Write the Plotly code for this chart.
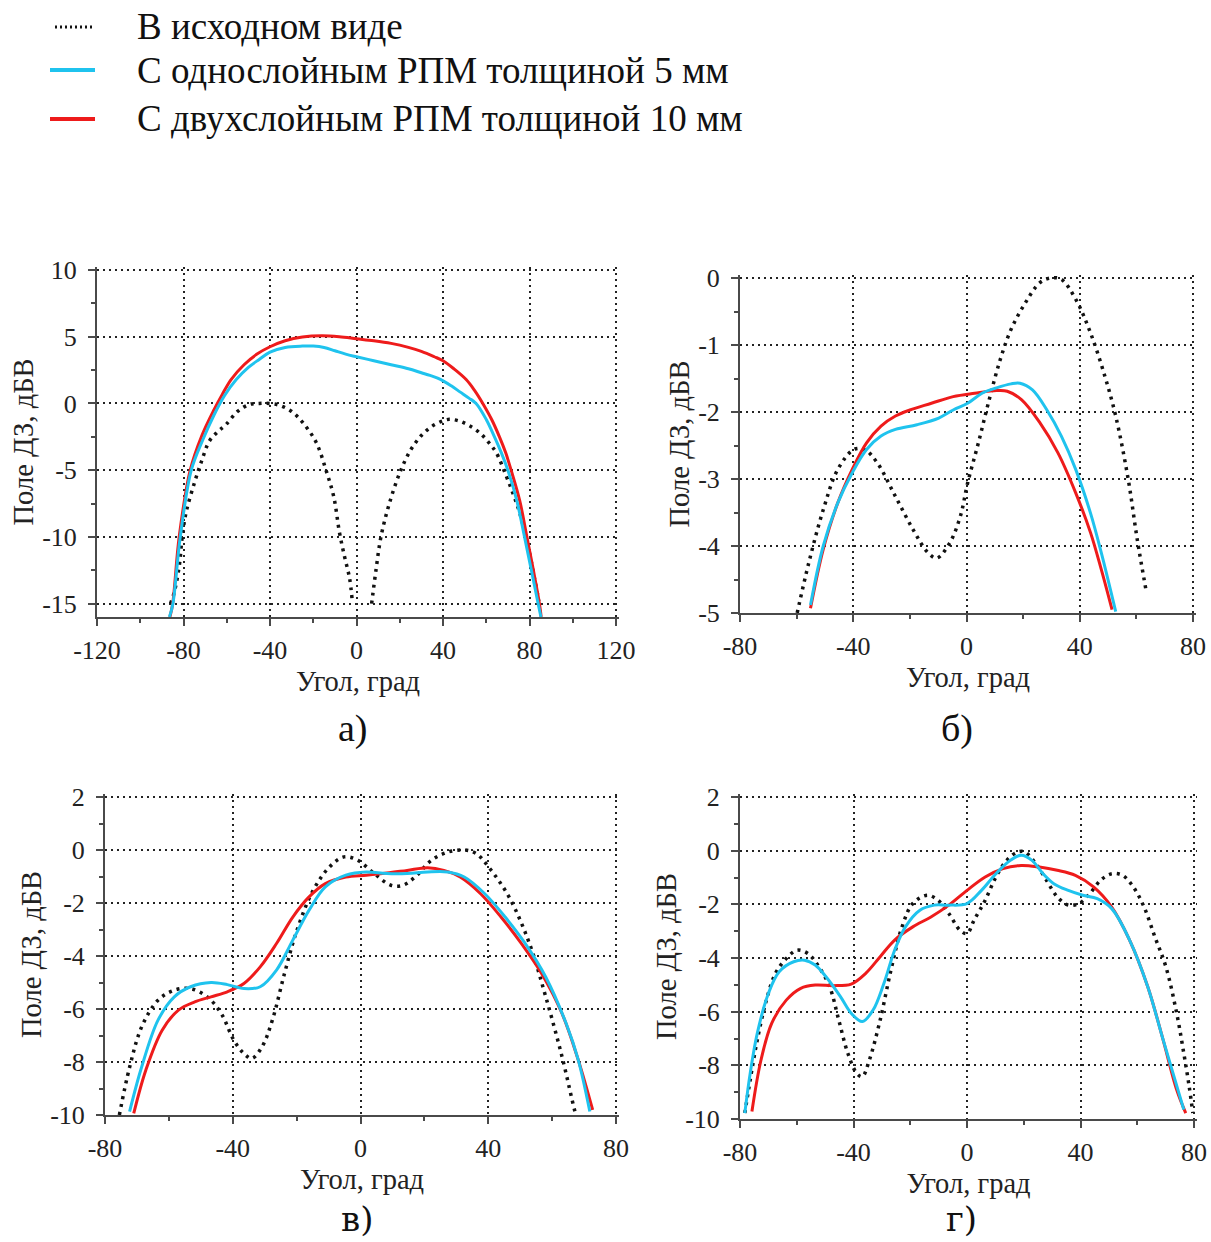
import plotly.graph_objects as go

FONT = "Liberation Serif"
C_ORIG = "#111111"
C_ONE = "#1FC3EE"
C_TWO = "#EE1B1B"

legend_names = ["В исходном виде", "С однослойным РПМ толщиной 5 мм", "С двухслойным РПМ толщиной 10 мм"]
panel_labels = ["а)", "б)", "в)", "г)"]
x_title = "Угол, град"
y_title = "Поле ДЗ, дБВ"

# tick values / labels
a_xticks = [-120, -80, -40, 0, 40, 80, 120]
a_xlabels = ["-120", "-80", "-40", "0", "40", "80", "120"]
a_yticks = [-15, -10, -5, 0, 5, 10]
a_ylabels = ["-15", "-10", "-5", "0", "5", "10"]
b_xticks = [-80, -40, 0, 40, 80]
b_xlabels = ["-80", "-40", "0", "40", "80"]
b_yticks = [-5, -4, -3, -2, -1, 0]
b_ylabels = ["-5", "-4", "-3", "-2", "-1", "0"]
cd_xticks = [-80, -40, 0, 40, 80]
cd_xlabels = ["-80", "-40", "0", "40", "80"]
cd_yticks = [-10, -8, -6, -4, -2, 0, 2]
cd_ylabels = ["-10", "-8", "-6", "-4", "-2", "0", "2"]

# ---------- а) ----------
a_orig_x = [-86, -84.2, -81.9, -80.6, -78.8, -74.9, -71.8, -68, -64, -60.3, -55, -49.5, -45, -40, -35.4, -30,
            -24.8, -18.6, -14, -10.5, -7.9, -5.5, -3.2, -2, None,
            7, 9, 11.3, 15, 20, 25, 30, 35, 40, 43, 47.6, 52, 56.9, 61, 64.6, 69.2, 72.5, 75.4, 79.2, 82.3, 84.3]
a_orig_y = [-15, -14.1, -12.1, -10, -8.16, -5.92, -4.4, -2.81, -2.1, -1.57, -0.6, -0.07, 0, 0, -0.15, -0.6,
            -1.44, -2.93, -5.05, -7, -9.65, -11.5, -13.1, -14.75, None,
            -15, -12.5, -10, -7.6, -5.2, -3.5, -2.4, -1.7, -1.3, -1.19, -1.32, -1.65, -2.19, -2.9, -3.68, -5.42,
            -6.8, -8.16, -10.6, -13.1, -14.8]
a_one_x = [-86.5, -84.9, -81.5, -76.4, -71, -66, -61, -55.6, -50, -45, -40, -33, -25, -20, -15, -10, -5,
           0, 8, 16, 24, 30, 34, 39, 44, 48, 52, 55.3, 60, 63.8, 67, 70, 74, 77.7, 81, 84, 85.3]
a_one_y = [-16, -15, -10, -5, -2.7, -0.9, 0.6, 1.79, 2.7, 3.3, 3.85, 4.2, 4.3, 4.3, 4.2, 3.95, 3.7,
           3.5, 3.2, 2.9, 2.6, 2.3, 2.1, 1.79, 1.3, 0.85, 0.4, 0, -1.2, -2.5, -3.7, -5, -7.2, -10, -12.6,
           -15, -16]
a_two_x = [-86.3, -85, -82, -76.9, -71.5, -66, -62, -58, -52, -46, -40, -33, -25, -16, -8, 0, 8, 16, 24,
           30, 36, 40, 45, 50.7, 54.5, 58.4, 62.5, 66.1, 69, 71.5, 75.5, 78.8, 81.8, 84.6, 85.4]
a_two_y = [-16, -15, -10, -5, -2.4, -0.5, 0.7, 1.79, 2.9, 3.7, 4.25, 4.7, 4.98, 5.07, 5.0, 4.85, 4.7, 4.5,
           4.2, 3.9, 3.5, 3.2, 2.6, 1.79, 1.0, 0, -1.2, -2.5, -3.7, -5, -7.3, -10, -12.5, -15, -16]

# ---------- б) ----------
b_orig_x = [-59.8, -55.7, -50.6, -45.5, -39.8, -36, -31.5, -25.1, -18.8, -13.6, -10.5, -6, -2.2, 0.4, 4.2, 8,
            11.9, 15.7, 20.8, 25.9, 29.7, 33.5, 38.6, 43.8, 48.9, 52.7, 57.1, 60.3, 63.5]
b_orig_y = [-5, -4.25, -3.46, -2.86, -2.56, -2.56, -2.76, -3.26, -3.76, -4.1, -4.18, -3.96, -3.56, -3.06,
            -2.46, -1.82, -1.22, -0.77, -0.37, -0.07, 0, -0.02, -0.32, -0.82, -1.47, -2.06, -3.0, -3.9, -4.68]
b_one_x = [-55.1, -50.6, -45.5, -40.4, -35.3, -30.2, -25.1, -17.5, -9.8, -4.7, 0.4, 5.5, 10.6, 15.7, 18.9,
           23.3, 28.4, 33.5, 38.6, 43.8, 47.6, 52.7]
b_one_y = [-4.88, -4.0, -3.36, -2.91, -2.56, -2.36, -2.26, -2.19, -2.09, -1.97, -1.87, -1.72, -1.64, -1.58,
           -1.57, -1.67, -1.97, -2.36, -2.86, -3.51, -4.1, -4.98]
b_two_x = [-55.1, -50.6, -45.5, -40.4, -35.3, -30.2, -25.1, -20, -12.4, -4.7, 2.9, 10.6, 14.4, 19.5, 25.9,
           32.3, 38.6, 43.8, 47.6, 51.4]
b_two_y = [-4.93, -4.05, -3.36, -2.86, -2.46, -2.21, -2.06, -1.97, -1.87, -1.77, -1.72, -1.68, -1.69, -1.82,
           -2.16, -2.61, -3.21, -3.8, -4.35, -4.95]

# ---------- в) ----------
c_orig_x = [-75.5, -72.3, -68.5, -63.4, -58.3, -53.2, -48, -43.6, -39.7, -36.5, -34, -30.8, -27.6, -23.8,
            -19.9, -14.8, -9.7, -5.2, -0.8, 4.3, 9.5, 13.3, 17.1, 22.2, 27.3, 32.5, 36.3, 40.1, 46.5, 52.9,
            58, 63.1, 67, 67.5]
c_orig_y = [-10, -8.2, -6.67, -5.67, -5.29, -5.23, -5.54, -6.17, -7.17, -7.68, -7.86, -7.42, -6.42, -4.66,
            -3.03, -1.52, -0.64, -0.26, -0.39, -0.89, -1.33, -1.33, -1.02, -0.39, -0.08, 0, -0.14, -0.64,
            -1.77, -3.53, -5.54, -7.8, -9.8, -10]
c_one_x = [-72.3, -68.5, -63.4, -58.3, -53.2, -46.8, -41.7, -36.5, -31.4, -26.3, -21.2, -16.1, -11, -4.6, 1.8,
           8.2, 14.6, 21, 27.3, 32.5, 38.9, 45.3, 51.6, 58, 64.4, 68.2, 71.8]
c_one_y = [-9.87, -8.18, -6.42, -5.54, -5.16, -5.0, -5.08, -5.23, -5.16, -4.53, -3.4, -2.27, -1.39, -0.95,
           -0.83, -0.89, -0.89, -0.83, -0.83, -1.02, -1.65, -2.53, -3.53, -4.79, -6.55, -7.93, -9.87]
c_two_x = [-71, -67.2, -62.1, -57, -51.9, -46.8, -41.7, -36.5, -31.4, -26.3, -21.2, -16.1, -11, -4.6, 1.8, 8.2,
           14.6, 21, 26.1, 31.2, 37.6, 44, 50.4, 56.7, 63.1, 68.2, 72.7]
c_two_y = [-9.94, -8.3, -6.8, -6.04, -5.73, -5.54, -5.35, -5.04, -4.41, -3.53, -2.53, -1.77, -1.27, -1.02,
           -0.95, -0.87, -0.77, -0.67, -0.77, -1.02, -1.65, -2.53, -3.53, -4.66, -6.17, -7.93, -9.81]

# ---------- г) ----------
d_orig_x = [-78.3, -76.4, -73.9, -70.7, -67.5, -63.7, -59.9, -56.1, -52.2, -48.4, -45.2, -42, -38.9, -36.9,
            -34.4, -30.6, -26.8, -22.9, -19.1, -14, -10.2, -6.4, -2.5, 0, 2.5, 6.4, 10.2, 14, 17.8, 20.4, 24.2,
            28, 31.8, 35.7, 39.5, 43.3, 47.1, 51, 54.8, 58.6, 62.4, 66.2, 70.1, 73.9, 76.4, 78.3, 79.6]
d_orig_y = [-9.78, -8.54, -7.05, -5.57, -4.57, -4.02, -3.71, -3.83, -4.33, -5.07, -6.31, -7.55, -8.29, -8.42,
            -7.8, -6.31, -4.45, -2.84, -1.97, -1.66, -1.85, -2.34, -2.96, -3.09, -2.59, -1.85, -0.98, -0.36,
            -0.05, -0.05, -0.48, -1.1, -1.72, -2.03, -1.97, -1.6, -1.1, -0.86, -0.92, -1.35, -2.1, -3.21,
            -4.33, -6.06, -7.55, -8.79, -9.78]
d_one_x = [-78.3, -76.4, -73.9, -70, -66.2, -61.1, -57.3, -53.5, -49.7, -44.6, -40.8, -36.9, -33.1, -29.3,
           -25.5, -21.7, -16.6, -11.5, -6.4, 0, 5.1, 10.2, 15.3, 19.1, 22.9, 26.8, 30.6, 35.7, 40.8, 45.9, 51,
           57.3, 63.7, 68.8, 72.6, 76.4]
d_one_y = [-9.78, -8.29, -6.8, -5.32, -4.51, -4.14, -4.08, -4.26, -4.7, -5.44, -6.06, -6.37, -5.94, -4.95,
           -3.71, -2.84, -2.22, -2.03, -2.03, -1.97, -1.48, -0.86, -0.36, -0.17, -0.36, -0.86, -1.23, -1.48,
           -1.66, -1.79, -2.16, -3.33, -5.07, -6.93, -8.29, -9.65]
d_two_x = [-75.8, -72.6, -68.8, -63.7, -58.6, -53.5, -47.1, -40.8, -35.7, -30.6, -25.5, -19.1, -12.7, -6.4, 0,
           6.4, 12.7, 19.1, 25.5, 31.8, 38.2, 44.6, 51, 57.3, 63.7, 68.8, 73.9, 77.1]
d_two_y = [-9.72, -7.8, -6.43, -5.57, -5.13, -5.01, -5.03, -4.97, -4.57, -3.95, -3.33, -2.84, -2.47, -2.03,
           -1.48, -0.98, -0.67, -0.55, -0.61, -0.73, -0.92, -1.35, -2.1, -3.33, -5.07, -6.93, -8.91, -9.78]

x_ranges = [[-120, 120], [-80, 80], [-80, 80], [-80, 80]]
y_ranges = [[-16, 10], [-5, 0], [-10, 2], [-10, 2]]
x_ticks = [(a_xticks, a_xlabels), (b_xticks, b_xlabels), (cd_xticks, cd_xlabels), (cd_xticks, cd_xlabels)]
y_ticks = [(a_yticks, a_ylabels), (b_yticks, b_ylabels), (cd_yticks, cd_ylabels), (cd_yticks, cd_ylabels)]
x_minor = [20, 20, 20, 20]
y_minor = [2.5, 0.5, 1, 1]

W, H = 1211, 1242
# pixel boxes: (left, right, top, bottom)
boxes = [(97, 616, 270, 617), (740, 1193, 278, 613), (105, 616, 797, 1115), (740, 1194, 797, 1119)]
label_pos = [(353, 728), (957, 728), (357, 1219), (961, 1219)]
label_fonts = [(FONT, 38), (FONT, 38), ("DejaVu Serif", 34), ("DejaVu Serif", 34)]
EXT = 3  # px extension so that the edge grid lines (right/top) are drawn

series = [
    [(a_orig_x, a_orig_y), (a_one_x, a_one_y), (a_two_x, a_two_y)],
    [(b_orig_x, b_orig_y), (b_one_x, b_one_y), (b_two_x, b_two_y)],
    [(c_orig_x, c_orig_y), (c_one_x, c_one_y), (c_two_x, c_two_y)],
    [(d_orig_x, d_orig_y), (d_one_x, d_one_y), (d_two_x, d_two_y)],
]

styles = [
    dict(color=C_ORIG, width=3.5, dash="3px,5px"),
    dict(color=C_ONE, width=3),
    dict(color=C_TWO, width=3),
]
draw_order = [0, 2, 1]

fig = go.Figure()
for p, ser in enumerate(series):
    sfx = "" if p == 0 else str(p + 1)
    for s in draw_order:
        xs, ys = ser[s]
        fig.add_trace(go.Scatter(
            x=xs, y=ys, mode="lines", line=dict(shape="spline", smoothing=1.0, **styles[s]),
            name=legend_names[s], showlegend=False,
            xaxis="x" + sfx, yaxis="y" + sfx, connectgaps=False, hoverinfo="skip"))

tickfont = dict(family=FONT, size=26, color="#222222")
titlefont = dict(family=FONT, size=28.5, color="#222222")
AX = "#4a4a4a"
layout = dict(
    width=W, height=H, margin=dict(l=0, r=0, t=0, b=0, autoexpand=False),
    paper_bgcolor="white", plot_bgcolor="white", showlegend=False,
    annotations=[], shapes=[],
)
for p in range(4):
    l, r, t, b = boxes[p]
    sfx = "" if p == 0 else str(p + 1)
    x0, x1 = x_ranges[p]
    y0, y1 = y_ranges[p]
    x1e = x1 + EXT * (x1 - x0) / (r - l)
    y1e = y1 + EXT * (y1 - y0) / (b - t)
    common = dict(showline=True, linecolor=AX, linewidth=2, ticks="outside", ticklen=7, tickwidth=2,
                  tickcolor=AX, showgrid=True, gridcolor="#222222", griddash="2px,4px", gridwidth=1.8,
                  zeroline=False, tickfont=tickfont, mirror=False, automargin=False, tickmode="array")
    layout["xaxis" + sfx] = dict(
        domain=[l / W, (r + EXT) / W], range=[x0, x1e], anchor="y" + sfx,
        tickvals=x_ticks[p][0], ticktext=x_ticks[p][1],
        minor=dict(dtick=x_minor[p], tick0=0, ticks="outside", ticklen=4, tickwidth=2, tickcolor=AX,
                   showgrid=False),
        title=dict(text=x_title, font=titlefont, standoff=7), ticklabelstandoff=2, **common)
    layout["yaxis" + sfx] = dict(
        domain=[1 - b / H, 1 - (t - EXT) / H], range=[y0, y1e], anchor="x" + sfx,
        tickvals=y_ticks[p][0], ticktext=y_ticks[p][1],
        minor=dict(dtick=y_minor[p], tick0=0, ticks="outside", ticklen=4, tickwidth=2, tickcolor=AX,
                   showgrid=False),
        title=dict(text=y_title, font=titlefont, standoff=0), ticklabelstandoff=6, **common)
    lx, ly = label_pos[p]
    fam, size = label_fonts[p]
    layout["annotations"].append(dict(
        text=panel_labels[p], x=lx / W, y=1 - ly / H, xref="paper", yref="paper", showarrow=False,
        font=dict(family=fam, size=size, color="#111111"), xanchor="center", yanchor="middle"))

# legend (drawn manually to match the original sample/text spacing)
leg_rows = [27, 70, 119]
leg_samples = [(55, 92), (50, 95), (50, 95)]
for i in range(3):
    st = styles[i]
    x0p, x1p = leg_samples[i]
    layout["shapes"].append(dict(
        type="line", xref="paper", yref="paper", x0=x0p / W, x1=x1p / W,
        y0=1 - leg_rows[i] / H, y1=1 - leg_rows[i] / H,
        line=dict(color=st["color"], width=(3 if i == 0 else 4), dash=("2px,3px" if i == 0 else "solid"))))
    layout["annotations"].append(dict(
        text=legend_names[i], x=135 / W, y=1 - leg_rows[i] / H, xref="paper", yref="paper",
        showarrow=False, xanchor="left", yanchor="middle",
        font=dict(family=FONT, size=37, color="#111111")))

fig.update_layout(**layout)
fig.write_html("out.html")
